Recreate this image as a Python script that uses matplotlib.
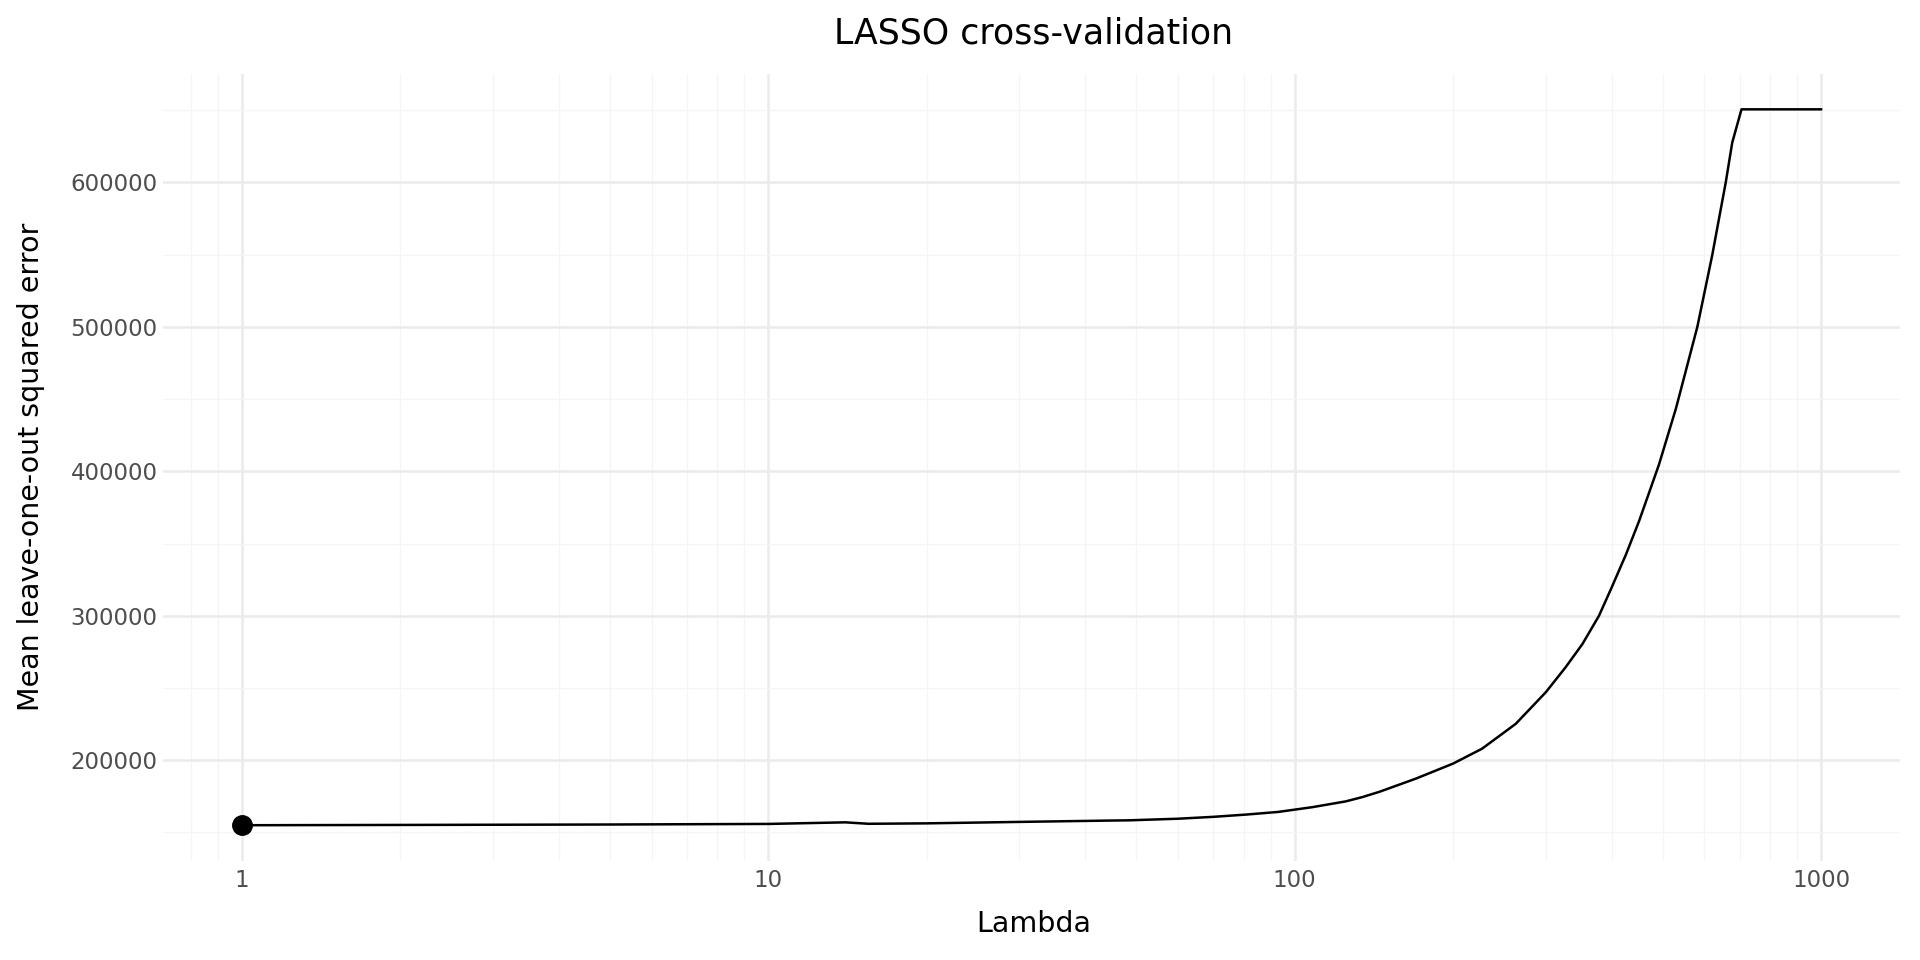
import matplotlib
matplotlib.use("Agg")
import matplotlib.pyplot as plt
from matplotlib.ticker import LogLocator, FixedLocator, NullFormatter
import numpy as np

# values
lam = [1, 2, 5, 10, 14, 15.5, 20, 30, 44, 48.5, 60, 70, 81, 93, 100,
       108, 125, 134.5, 145, 170, 200, 227, 263, 300, 327, 352, 378.5,
       400, 426, 451, 492, 530, 582, 621, 659, 678, 706, 1000]
mse = [155000, 155200, 155500, 155900, 157000, 156000, 156300, 157300,
       158200, 158400, 159500, 160800, 162400, 164200, 165800, 167500,
       171500, 174500, 178200, 187300, 197700, 208000, 225200, 247100,
       264300, 280400, 300000, 319500, 342500, 365500, 404600, 443500,
       500000, 549400, 600000, 627600, 650600, 650600]
best_lam = 1
best_mse = 155000

x_ticks = [1, 10, 100, 1000]
x_labels = ["1", "10", "100", "1000"]
y_ticks = [200000, 300000, 400000, 500000, 600000]
y_minor = [150000, 250000, 350000, 450000, 550000, 650000]

fig = plt.figure(figsize=(19.2, 9.6), dpi=100)
ax = fig.add_axes([0.0849, 0.1031, 0.9047, 0.8203])

ax.plot(lam, mse, color="black", lw=1.8, zorder=3)
ax.plot([best_lam], [best_mse], "o", color="black", ms=14, zorder=4)

ax.set_xscale("log")
lo, hi = np.log10(min(lam)), np.log10(max(lam))
pad = 0.05 * (hi - lo)
ax.set_xlim(10 ** (lo - pad), 10 ** (hi + pad))
ymin, ymax = min(mse), max(mse)
ypad = 0.05 * (ymax - ymin)
ax.set_ylim(ymin - ypad, ymax + ypad)

ax.xaxis.set_major_locator(FixedLocator(x_ticks))
ax.set_xticklabels(x_labels)
ax.xaxis.set_minor_locator(LogLocator(base=10, subs=np.arange(2, 10)))
ax.xaxis.set_minor_formatter(NullFormatter())
ax.yaxis.set_major_locator(FixedLocator(y_ticks))
ax.set_yticklabels([str(v) for v in y_ticks])
ax.yaxis.set_minor_locator(FixedLocator(y_minor))

ax.grid(which="major", color="#EBEBEB", lw=1.8)
ax.grid(which="minor", color="#F5F5F5", lw=0.9)
ax.set_axisbelow(True)
for s in ax.spines.values():
    s.set_visible(False)
ax.tick_params(which="both", length=0)
ax.tick_params(axis="x", pad=5.5, labelsize=16.5, labelcolor="#4D4D4D")
ax.tick_params(axis="y", pad=4, labelsize=16.5, labelcolor="#4D4D4D")

fig.text(0.5385, 0.9646, "LASSO cross-validation", ha="center", va="center",
         fontsize=25, color="black")
fig.text(0.5385, 0.0375, "Lambda", ha="center", va="center", fontsize=20.5,
         color="black")
fig.text(0.0161, 0.5135, "Mean leave-one-out squared error", ha="center",
         va="center", rotation=90, fontsize=20.5, color="black")

fig.savefig("out.png", dpi=100, facecolor="white")
